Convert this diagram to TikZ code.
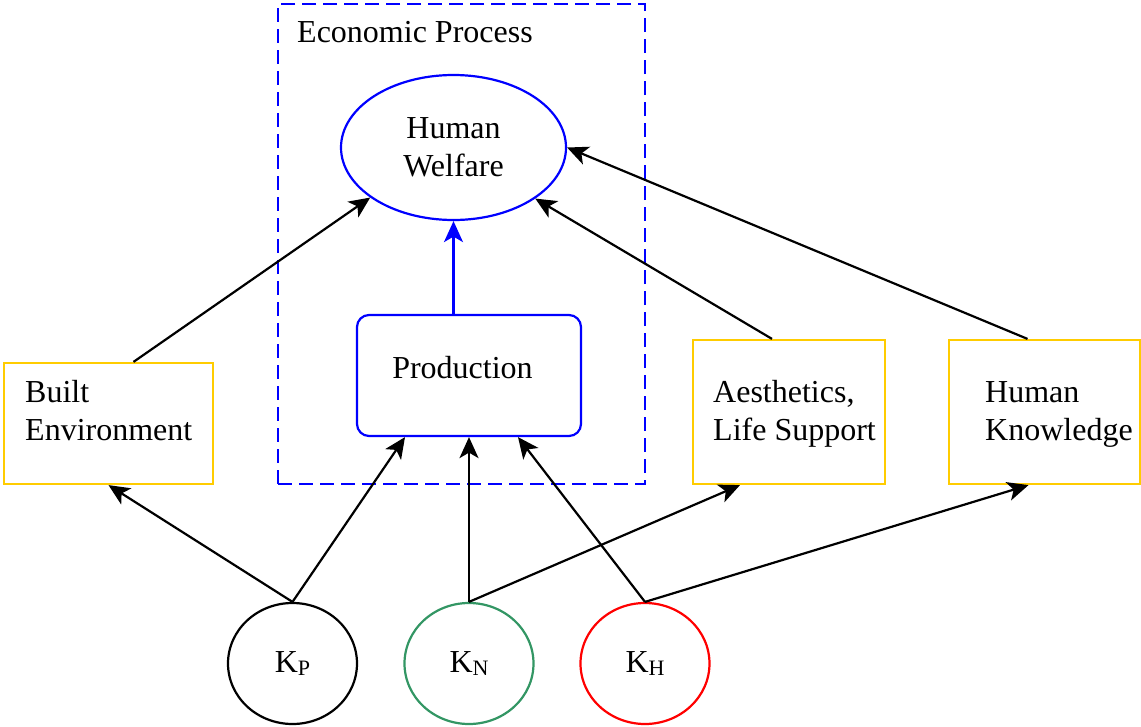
\documentclass[tikz,border=0pt]{standalone}
\usepackage{fontspec}
\setmainfont{Liberation Serif}
\usetikzlibrary{shapes.geometric,arrows.meta,calc}
\definecolor{kgreen}{RGB}{51,150,100}
\definecolor{kyellow}{RGB}{255,204,0}
\begin{document}
\begin{tikzpicture}[x=1pt,y=-1pt,
  every node/.style={font=\fontsize{32}{38}\selectfont},
  ybox/.style={draw=kyellow, line width=2.2pt, inner sep=0pt, rectangle},
  conn/.style={line width=2.2pt, -{Stealth[length=21pt,width=19pt,inset=5.5pt]}},
  txt/.style={align=left, inner sep=0pt, anchor=base west},
  kcirc/.style={ellipse, line width=2.2pt, minimum width=129pt, minimum height=121pt, inner sep=0pt}]
\useasboundingbox (0,0) rectangle (1141,726);
% frame
\node[draw=blue, dash pattern=on 14pt off 7pt, line width=2.2pt, minimum width=367pt, minimum height=480pt, inner sep=0pt] (ep) at (461.5,244) {};
\node[inner sep=0pt, anchor=base west] (eptxt) at (297,42) {Economic Process};
% main nodes
\node[ellipse, draw=blue, line width=2.2pt, minimum width=225pt, minimum height=145pt, inner sep=0pt, align=center] (hw) at (453.5,147.5) {Human\\Welfare};
\node[draw=blue, rounded corners=12pt, line width=2.2pt, minimum width=224pt, minimum height=121pt, inner sep=0pt] (pr) at (469,375.5) {};
\node[inner sep=0pt] (prtxt) at (462.5,368) {Production};
\node[ybox, minimum width=209pt, minimum height=121pt] (be) at (108.5,423.5) {};
\node[txt] (betxt) at (25,440) {Built\\Environment};
\node[ybox, minimum width=192pt, minimum height=144pt] (ae) at (789,412) {};
\node[txt] (aetxt) at (713,440) {Aesthetics,\\Life Support};
\node[ybox, minimum width=191pt, minimum height=144pt] (hk) at (1044.5,412) {};
\node[txt] (hktxt) at (985,440) {Human\\Knowledge};
% capital nodes
\node[kcirc, draw=black] (kp) at (292.5,663.5) {K\raisebox{-3pt}{\fontsize{22}{22}\selectfont P}};
\node[kcirc, draw=kgreen] (kn) at (469,663.5) {K\raisebox{-3pt}{\fontsize{22}{22}\selectfont N}};
\node[kcirc, draw=red] (kh) at (645,663.5) {K\raisebox{-3pt}{\fontsize{22}{22}\selectfont H}};
% connectors
\draw[conn] (kp.north) -- (be.south);
\draw[conn] (kp.north) -- ([xshift=-64pt]pr.south);
\draw[conn] (kn.north) -- (pr.south);
\draw[conn] (kh.north) -- ([xshift=49pt]pr.south);
\draw[conn] (kn.north) -- ([xshift=-49pt]ae.south);
\draw[conn] (kh.north) -- ([xshift=-16pt]hk.south);
\draw[conn] ([xshift=25pt]be.north) -- (hw.211.6);
\draw[conn, draw=blue, fill=blue] (pr.north -| hw.south) -- (hw.south);
\draw[conn] ([xshift=-17pt]ae.north) -- (hw.328.4);
\draw[conn] ([xshift=-17pt]hk.north) -- (hw.east);
\end{tikzpicture}
\end{document}
